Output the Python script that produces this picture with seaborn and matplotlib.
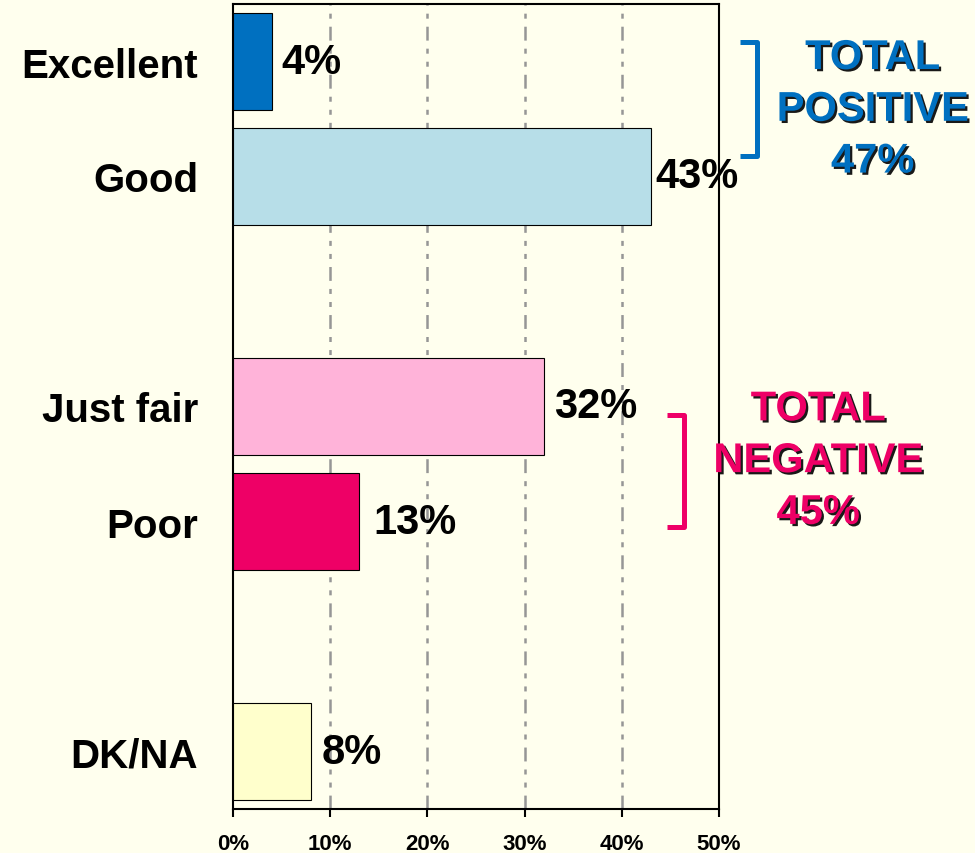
import pandas as pd
import matplotlib
matplotlib.use("Agg")
import matplotlib.pyplot as plt
import matplotlib.patheffects as pe
import seaborn as sns

sns.set_style("white")
plt.rcParams["font.family"] = ["Liberation Sans", "DejaVu Sans"]
plt.rcParams["lines.scale_dashes"] = False
plt.rcParams["text.color"] = "black"
plt.rcParams["xtick.color"] = "black"
plt.rcParams["ytick.color"] = "black"

# data
categories = ["Excellent", "Good", "Just fair", "Poor", "DK/NA"]
values = [4, 43, 32, 13, 8]
# empty slots used as spacers between the groups
order = ["Excellent", "Good", "gap1", "Just fair", "Poor", "gap2", "DK/NA"]
x_ticks = [0, 10, 20, 30, 40, 50]
x_tick_labels = ["0%", "10%", "20%", "30%", "40%", "50%"]
positive_text = "TOTAL\nPOSITIVE\n47%"
negative_text = "TOTAL\nNEGATIVE\n45%"

colors = {
    "Excellent": "#0070C0",
    "Good": "#B7DEE8",
    "Just fair": "#FFB3D9",
    "Poor": "#EE0066",
    "DK/NA": "#FFFFCC",
}
bg = "#FFFFEE"
pos_color = "#0070C0"
neg_color = "#EE0066"

df = pd.DataFrame({"category": categories, "value": values})

fig = plt.figure(figsize=(9.75, 8.54), dpi=100, facecolor=bg)
ax = fig.add_axes([233 / 975, 44 / 854, 486 / 975, 805 / 854])
ax.set_facecolor(bg)

sns.barplot(
    data=df,
    x="value",
    y="category",
    hue="category",
    order=order,
    palette=colors,
    saturation=1,
    width=0.84,
    edgecolor="black",
    linewidth=0.8,
    legend=False,
    ax=ax,
    zorder=3,
)

ax.set_xlim(0, 50)
ax.set_ylim(len(order) - 0.5, -0.5)
ax.set_xticks(x_ticks)
ax.set_xticklabels(x_tick_labels, fontsize=16, fontweight="bold", color="black")
ax.set_yticks(range(len(order)))
ax.set_yticklabels([c if not c.startswith("gap") else "" for c in order],
                   fontsize=29, fontweight="bold", color="black")
ax.tick_params(axis="y", length=0, pad=25)
ax.tick_params(axis="x", direction="out", length=6, width=1.5, pad=11,
               bottom=True, colors="black")
ax.set_xlabel("")
ax.set_ylabel("")

# grid lines
for xv in x_ticks[1:-1]:
    ax.axvline(xv, color="#969696", linewidth=1.8,
               linestyle=(0, (10, 5.8, 3.6, 5.8, 3.6, 5.8)), zorder=1)

for s in ax.spines.values():
    s.set_visible(True)
    s.set_color("black")
    s.set_linewidth(1.5)

# value labels
offsets = {"Excellent": 7, "Good": 3, "Just fair": 7, "Poor": 10, "DK/NA": 8}
for cat, v in zip(categories, values):
    ax.annotate(f"{v}%", xy=(v, order.index(cat)), xytext=(offsets[cat], 0),
                textcoords="offset points", ha="left", va="center",
                fontsize=30, fontweight="bold", color="black",
                annotation_clip=False, zorder=5)

# brackets
ax.plot([52.2, 53.9, 53.9, 52.2], [-0.17, -0.17, 0.82, 0.82],
        color=pos_color, linewidth=3.6, clip_on=False,
        solid_joinstyle="round", solid_capstyle="butt", zorder=5)
ax.plot([44.65, 46.4, 46.4, 44.65], [3.07, 3.07, 4.05, 4.05],
        color=neg_color, linewidth=3.6, clip_on=False,
        solid_joinstyle="round", solid_capstyle="butt", zorder=5)

shadow = [pe.withSimplePatchShadow(offset=(1.6, -1.6), shadow_rgbFace="black", alpha=0.9)]
ax.text(65.8, 0.42, positive_text, ha="center", va="center", fontsize=30,
        fontweight="bold", color=pos_color, linespacing=1.38,
        path_effects=shadow, clip_on=False, zorder=6)
ax.text(60.2, 3.475, negative_text, ha="center", va="center", fontsize=30,
        fontweight="bold", color=neg_color, linespacing=1.38,
        path_effects=shadow, clip_on=False, zorder=6)

fig.savefig("out.png", dpi=100, facecolor=bg)
